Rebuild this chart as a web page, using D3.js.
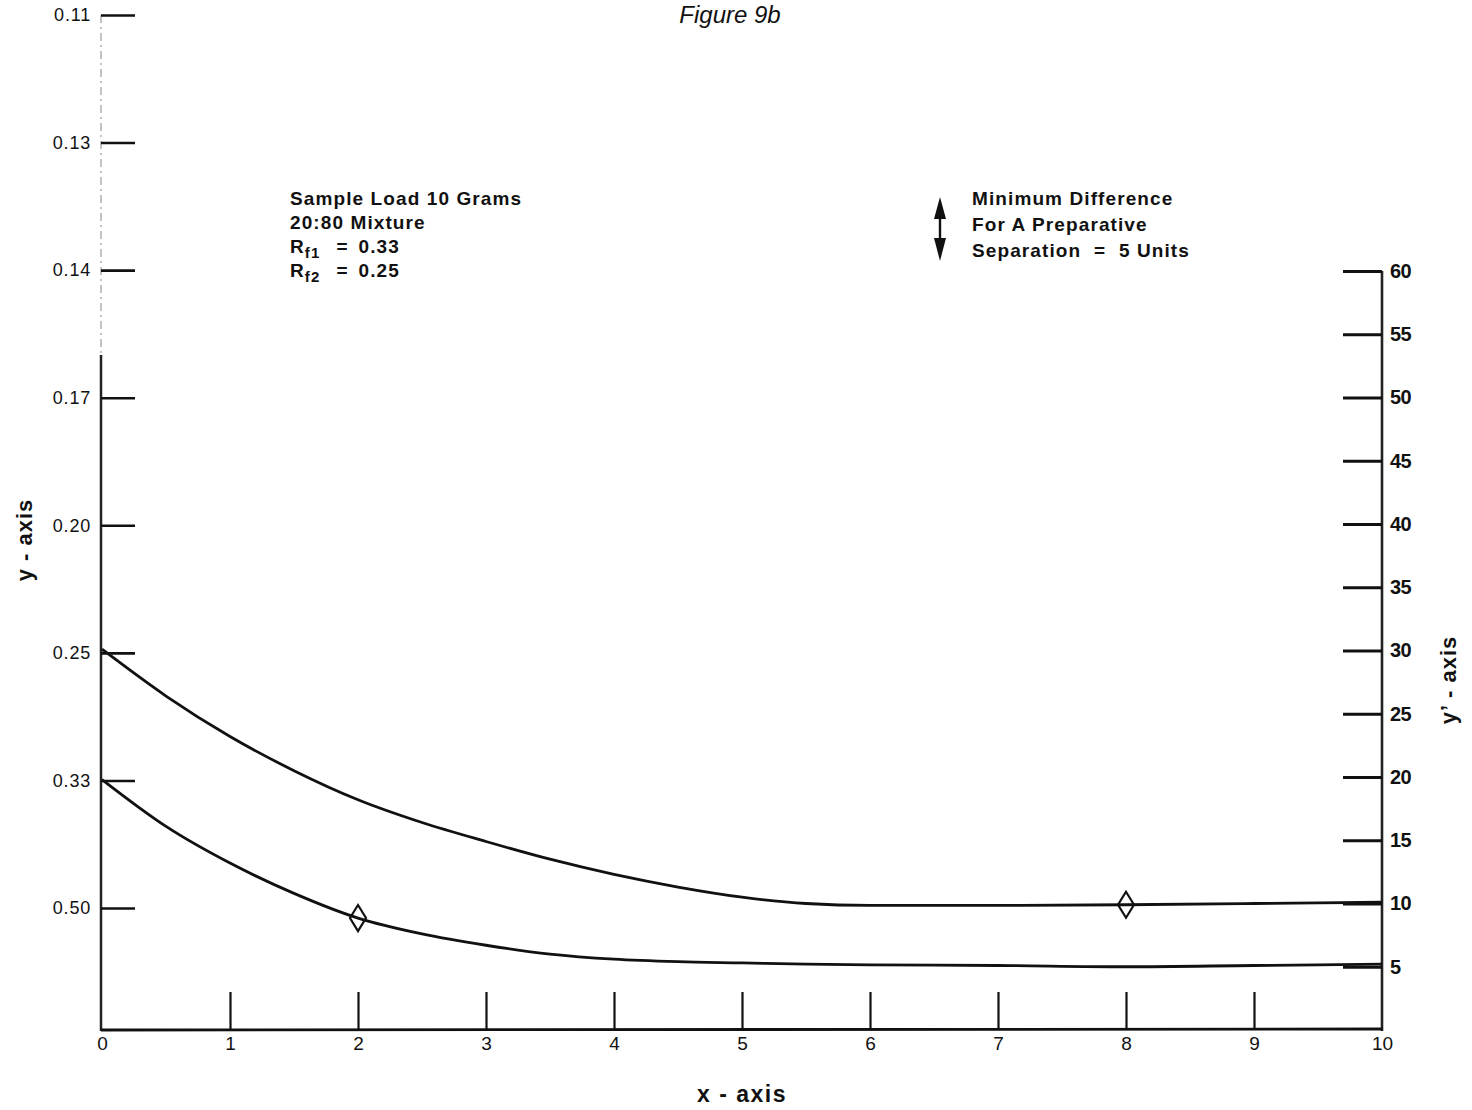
<!DOCTYPE html>
<html>
<head>
<meta charset="utf-8">
<script src="https://cdn.jsdelivr.net/npm/d3@7"></script>
<style>
  html, body { margin: 0; padding: 0; background: #fff; }
  svg { display: block; font-family: "Liberation Sans", Arial, Helvetica, sans-serif; }
  .pre { white-space: pre; }
</style>
</head>
<body>
<svg id="chart" width="1472" height="1110"></svg>
<script>
// ---------------- data ----------------
const leftAxisLabels = ["0.11", "0.13", "0.14", "0.17", "0.20", "0.25", "0.33", "0.50"];
const rightAxisTicks = [5, 10, 15, 20, 25, 30, 35, 40, 45, 50, 55, 60];
const xTicks = [0, 1, 2, 3, 4, 5, 6, 7, 8, 9, 10];
const xValues = [0, 0.5, 1, 1.5, 2, 2.5, 3, 3.5, 4, 4.5, 5, 5.5, 6, 7, 8, 9, 10];
const upperCurve = [30.1, 26.4, 23.2, 20.5, 18.2, 16.4, 14.9, 13.5, 12.3, 11.3, 10.5, 10.0, 9.85, 9.85, 9.9, 10.0, 10.1];
const lowerCurve = [19.8, 16.1, 13.2, 10.8, 8.85, 7.6, 6.7, 6.0, 5.6, 5.4, 5.3, 5.2, 5.15, 5.1, 5.0, 5.1, 5.2];
const markerX = [2, 8];
const markerY = [8.85, 9.9];
const titleText = "Figure 9b";
const noteLeft = ["Sample Load 10 Grams", "20:80 Mixture"];
const rfLines = [["R", "f1", "=", "0.33"], ["R", "f2", "=", "0.25"]];
const noteRight = ["Minimum Difference", "For A Preparative", "Separation  =  5 Units"];

// ---------------- scales ----------------
const svg = d3.select("#chart");
const x = d3.scaleLinear().domain([0, 10]).range([102, 1382]);
const yR = d3.scaleLinear().domain([0, 60]).range([1030, 271]);
const yL = d3.scalePoint().domain(leftAxisLabels).range([15, 908]);

// ---------------- left axis ----------------
svg.append("line").attr("x1", 101).attr("x2", 101).attr("y1", 15).attr("y2", 355)
  .attr("stroke", "#b0b0b0").attr("stroke-width", 1.5).attr("stroke-dasharray", "8,4,2,4");
svg.append("line").attr("x1", 101).attr("x2", 101).attr("y1", 355).attr("y2", 1031)
  .attr("stroke", "#222").attr("stroke-width", 2.5);

const gL = svg.append("g").attr("transform", "translate(101,0)")
  .call(d3.axisLeft(yL).tickSizeInner(-34).tickSizeOuter(0).tickPadding(10));
gL.select(".domain").remove();
gL.selectAll(".tick line").attr("stroke", "#111").attr("stroke-width", 2.6);
gL.selectAll(".tick text").attr("font-size", 18).attr("fill", "#111").attr("letter-spacing", "0.8px");

// ---------------- right axis ----------------
svg.append("line").attr("x1", 1382).attr("x2", 1382).attr("y1", 271).attr("y2", 1031)
  .attr("stroke", "#222").attr("stroke-width", 2.6);
const gR = svg.append("g").attr("transform", "translate(1382,0)")
  .call(d3.axisRight(yR).tickValues(rightAxisTicks).tickSizeInner(-39).tickSizeOuter(0).tickPadding(8));
gR.select(".domain").remove();
gR.selectAll(".tick line").attr("stroke", "#111").attr("stroke-width", 2.8);
gR.selectAll(".tick text").attr("font-size", 20).attr("font-weight", "bold").attr("fill", "#111")
  .attr("letter-spacing", "-0.5px");

// ---------------- x axis ----------------
svg.append("line").attr("x1", 101).attr("x2", 1383).attr("y1", 1030).attr("y2", 1029)
  .attr("stroke", "#111").attr("stroke-width", 2.8);
const gX = svg.append("g").attr("transform", "translate(0,1030)")
  .call(d3.axisBottom(x).tickValues(xTicks).tickSizeInner(-38).tickSizeOuter(0).tickPadding(7).tickFormat(d3.format("d")));
gX.select(".domain").remove();
gX.selectAll(".tick line").attr("stroke", "#111").attr("stroke-width", 2.2)
  .attr("display", d => (d === 0 || d === 10) ? "none" : null);
gX.selectAll(".tick text").attr("font-size", 19).attr("fill", "#111");

// ---------------- curves ----------------
const line = d3.line().x(d => x(d[0])).y(d => yR(d[1])).curve(d3.curveMonotoneX);
svg.append("path").datum(xValues.map((v, i) => [v, upperCurve[i]]))
  .attr("d", line).attr("fill", "none").attr("stroke", "#111").attr("stroke-width", 2.8);
svg.append("path").datum(xValues.map((v, i) => [v, lowerCurve[i]]))
  .attr("d", line).attr("fill", "none").attr("stroke", "#111").attr("stroke-width", 2.8);

// diamond markers
markerX.forEach((mx, i) => {
  const cx = x(mx), cy = yR(markerY[i]);
  svg.append("path")
    .attr("d", `M${cx},${cy - 13} L${cx + 8},${cy} L${cx},${cy + 13} L${cx - 8},${cy} Z`)
    .attr("fill", "none").attr("stroke", "#111").attr("stroke-width", 2.2);
});

// ---------------- text ----------------
svg.append("text").attr("x", 730).attr("y", 23).attr("text-anchor", "middle")
  .attr("font-style", "italic").attr("font-size", 24).attr("fill", "#111").text(titleText);

const noteG = svg.append("g").attr("font-weight", "bold").attr("font-size", 19).attr("fill", "#111")
  .attr("letter-spacing", "1.1px");
noteLeft.forEach((t, i) => {
  noteG.append("text").attr("x", 290).attr("y", 205 + i * 24).text(t);
});
rfLines.forEach((r, i) => {
  const t = noteG.append("text").attr("x", 290).attr("y", 253 + i * 24);
  t.append("tspan").text(r[0]);
  t.append("tspan").attr("font-size", 15).attr("dy", 5).text(r[1]);
  t.append("tspan").attr("dy", -5).attr("font-size", 19).attr("dx", 16).text(r[2]);
  t.append("tspan").attr("dx", 10).text(r[3]);
});
noteRight.forEach((t, i) => {
  noteG.append("text").attr("class", "pre").attr("x", 972).attr("y", 205 + i * 26).text(t);
});

// double arrow
svg.append("line").attr("x1", 940).attr("x2", 940).attr("y1", 206).attr("y2", 252)
  .attr("stroke", "#111").attr("stroke-width", 2.4);
svg.append("path").attr("d", "M940,197 L946,219 L934,219 Z").attr("fill", "#111");
svg.append("path").attr("d", "M940,261 L946,238 L934,238 Z").attr("fill", "#111");

// axis titles
svg.append("text").attr("transform", "translate(32,540) rotate(-90)").attr("text-anchor", "middle")
  .attr("font-weight", "bold").attr("font-size", 22).attr("letter-spacing", "1px").attr("fill", "#111").text("y - axis");
svg.append("text").attr("transform", "translate(1456,680) rotate(-90)").attr("text-anchor", "middle")
  .attr("font-weight", "bold").attr("font-size", 22).attr("letter-spacing", "1px").attr("fill", "#111").text("y\u2019 - axis");
svg.append("text").attr("x", 742).attr("y", 1102).attr("text-anchor", "middle")
  .attr("font-weight", "bold").attr("font-size", 23).attr("letter-spacing", "1.5px").attr("fill", "#111").text("x - axis");
</script>
</body>
</html>
